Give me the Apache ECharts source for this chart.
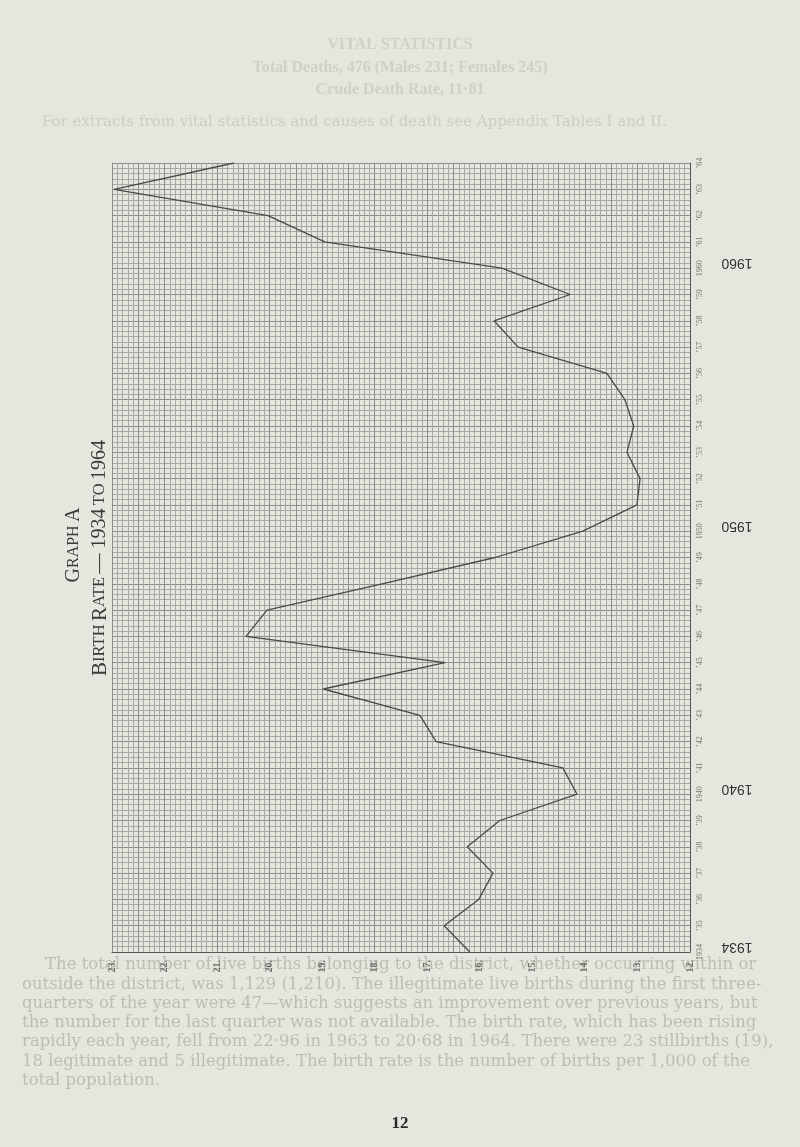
<!DOCTYPE html>
<html>
<head>
<meta charset="utf-8">
<script src="https://cdn.jsdelivr.net/npm/echarts@6/dist/echarts.min.js"></script>
<style>
html,body{margin:0;padding:0;background:#e6e6de;}
#c{width:800px;height:1147px;}
</style>
</head>
<body>
<div id="c"></div>
<script>
// ---- data ----
var years = [1934,1935,1936,1937,1938,1939,1940,1941,1942,1943,1944,1945,1946,1947,1948,1949,
             1950,1951,1952,1953,1954,1955,1956,1957,1958,1959,1960,1961,1962,1963,1964];
var birthRate = [16.19,16.68,16.02,15.75,16.24,15.62,14.15,14.42,16.83,17.14,18.98,16.66,20.45,20.05,17.86,15.71,
                 14.04,13.01,12.95,13.20,13.07,13.24,13.58,15.27,15.73,14.28,15.58,18.95,20.03,22.96,20.68];
var yearLabels = ["1934","\u201935","\u201936","\u201937","\u201938","\u201939","1940","\u201941","\u201942","\u201943",
                  "\u201944","\u201945","\u201946","\u201947","\u201948","\u201949","1950","\u201951","\u201952","\u201953",
                  "\u201954","\u201955","\u201956","\u201957","\u201958","\u201959","1960","\u201961","\u201962","\u201963","\u201964"];
var rateTicks = [12,13,14,15,16,17,18,19,20,21,22,23];
var rateLabels = ["12.","13.","14.","15.","16.","17.","18.","19.","20.","21.","22.","23."];
var decadeLabels = [1934,1940,1950,1960];
var paragraph = [
  "The total number of live births belonging to the district, whether occurring within or",
  "outside the district, was 1,129 (1,210). The illegitimate live births during the first three-",
  "quarters of the year were 47\u2014which suggests an improvement over previous years, but",
  "the number for the last quarter was not available. The birth rate, which has been rising",
  "rapidly each year, fell from 22\u00b796 in 1963 to 20\u00b768 in 1964. There were 23 stillbirths (19),",
  "18 legitimate and 5 illegitimate. The birth rate is the number of births per 1,000 of the",
  "total population."
];
var headLines = ["VITAL STATISTICS","Total Deaths, 476 (Males 231; Females 245)","Crude Death Rate, 11\u00b781"];
var headNote = "For extracts from vital statistics and causes of death see Appendix Tables I and II.";

var chart = echarts.init(document.getElementById('c'), null, {renderer:'canvas'});
var seriesData = years.map(function(y,i){ return [birthRate[i], y]; });
var serif = "'Liberation Serif','DejaVu Serif',serif";
var wideSerif = "'DejaVu Serif','Liberation Serif',serif";

chart.setOption({
  backgroundColor:'#e6e6de',
  animation:false,
  grid:{left:112,right:110,top:163,bottom:195,containLabel:false},
  xAxis:[{
    type:'value', min:12, max:23, interval:1, inverse:true, position:'bottom',
    axisLine:{show:true,lineStyle:{color:'#555',width:1}},
    axisTick:{show:false},
    axisLabel:{show:true, rotate:90, margin:8, fontFamily:serif, fontSize:10, fontWeight:'bold', color:'#6a6a66',
      formatter:function(v){ var i=rateTicks.indexOf(Math.round(v)); return i>=0?rateLabels[i]:''; }},
    splitLine:{show:true,lineStyle:{color:'#7e7e7a',width:1}},
    minorTick:{show:false, splitNumber:10},
    minorSplitLine:{show:true,lineStyle:{color:'#a9a9a3',width:1}}
  },{
    type:'value', min:12, max:23, interval:0.5, inverse:true, position:'bottom',
    axisLine:{show:false}, axisTick:{show:false}, axisLabel:{show:false},
    splitLine:{show:true,lineStyle:{color:'#8c8c88',width:1}}
  }],
  yAxis:[{
    type:'value', min:1934, max:1964, interval:1, position:'right',
    axisLine:{show:true,lineStyle:{color:'#555',width:1}},
    axisTick:{show:false},
    axisLabel:{show:true, rotate:90, margin:6, fontFamily:serif, fontSize:8, color:'#77776f',
      formatter:function(v){ var i=years.indexOf(Math.round(v)); return i>=0?yearLabels[i]:''; }},
    splitLine:{show:true,lineStyle:{color:'#8c8c88',width:1}},
    minorTick:{show:false, splitNumber:5},
    minorSplitLine:{show:true,lineStyle:{color:'#a9a9a3',width:1}}
  }],
  series:[{
    type:'line', xAxisIndex:0, yAxisIndex:0, data:seriesData,
    showSymbol:false, symbol:'none',
    lineStyle:{color:'#4a4a48',width:1.3},
    z:5
  }]
});

var gr = [];
// title (rotated, small caps simulated)
gr.push({type:'text', x:74, y:545, rotation:Math.PI/2,
  style:{text:'{c|G}{s|RAPH} {c|A}', align:'center', verticalAlign:'middle', fill:'#3a3a38',
    rich:{c:{fontFamily:serif,fontSize:20,fill:'#3a3a38'}, s:{fontFamily:serif,fontSize:16,fill:'#3a3a38'}}}});
gr.push({type:'text', x:100, y:558, rotation:Math.PI/2,
  style:{text:'{c|B}{s|IRTH} {c|R}{s|ATE} {n|\u2014 1934} {s|TO} {n|1964}', align:'center', verticalAlign:'middle', fill:'#3a3a38',
    rich:{c:{fontFamily:serif,fontSize:21,fill:'#3a3a38'}, s:{fontFamily:serif,fontSize:16.5,fill:'#3a3a38'}, n:{fontFamily:serif,fontSize:20,fill:'#3a3a38'}}}});
// decade markers (upside down)
var rightEdge = chart.convertToPixel({xAxisIndex:0}, 12);
decadeLabels.forEach(function(yr){
  var py = chart.convertToPixel({yAxisIndex:0}, yr);
  gr.push({type:'text', x:rightEdge+47, y:py-5, rotation:Math.PI,
    style:{text:String(yr), align:'center', verticalAlign:'middle', fontFamily:"'Liberation Sans','DejaVu Sans',sans-serif",
      fontSize:14, fill:'#333'}});
});
// faint show-through text
headLines.forEach(function(t,i){
  gr.push({type:'text', x:400, y:[45,68,90][i], style:{text:t, align:'center', verticalAlign:'middle',
    fontFamily:serif, fontSize:16, fontWeight:'bold', fill:'#d0d0c8'}, z:-1});
});
gr.push({type:'text', x:42, y:122, style:{text:headNote, align:'left', verticalAlign:'middle',
  fontFamily:wideSerif, fontSize:15, fill:'#cdcdc5'}, z:-1});
paragraph.forEach(function(t,i){
  gr.push({type:'text', x:i===0?45:22, y:965+i*19.3, style:{text:t, align:'left', verticalAlign:'middle',
    fontFamily:wideSerif, fontSize:16.5, fill:'#bdbdb5'}, z:-1});
});
// page number
gr.push({type:'text', x:400, y:1124, style:{text:'12', align:'center', verticalAlign:'middle',
  fontFamily:serif, fontSize:17, fontWeight:'bold', fill:'#2a2a2a'}});
chart.setOption({graphic:gr});
</script>
</body>
</html>
